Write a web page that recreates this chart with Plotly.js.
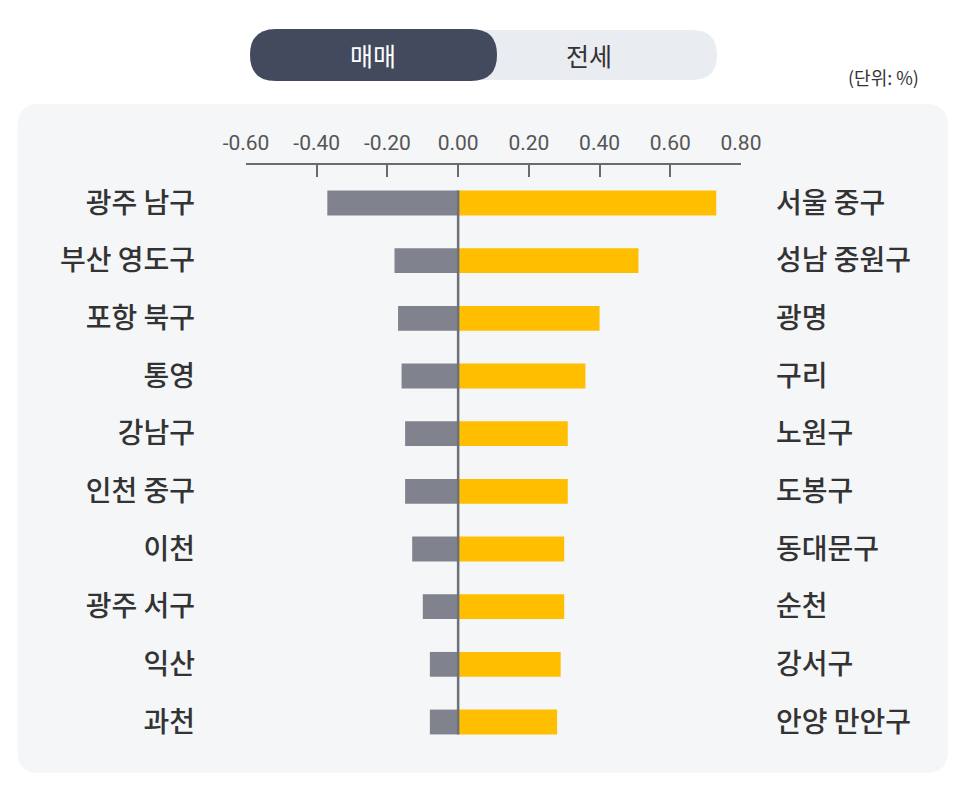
<!DOCTYPE html>
<html>
<head>
<meta charset="utf-8">
<script src="https://cdn.plot.ly/plotly-3.0.1.min.js"></script>
<style>
html,body{margin:0;padding:0;background:#ffffff;}
#chart{width:966px;height:798px;}
</style>
</head>
<body>
<div id="chart"></div>
<script>
// ---- data ----
const saleRegions = ["광주 남구","부산 영도구","포항 북구","통영","강남구","인천 중구","이천","광주 서구","익산","과천"];
const saleValues = [-0.37,-0.18,-0.17,-0.16,-0.15,-0.15,-0.13,-0.10,-0.08,-0.08];
const jeonseRegions = ["서울 중구","성남 중원구","광명","구리","노원구","도봉구","동대문구","순천","강서구","안양 만안구"];
const jeonseValues = [0.73,0.51,0.40,0.36,0.31,0.31,0.30,0.30,0.29,0.28];
const xTickVals = [-0.6,-0.4,-0.2,0,0.2,0.4,0.6,0.8];
const xTickText = ["-0.60","-0.40","-0.20","0.00","0.20","0.40","0.60","0.80"];
const toggleLabels = ["매매","전세"];
const unitLabel = "(단위: %)";

// ---- layout geometry (pixels) ----
const W = 966, H = 798;
const M = {l:246, r:225, t:165, b:38};
const PW = W - M.l - M.r, PH = H - M.t - M.b;
const X = px => (px - M.l) / PW;
const Y = py => (H - M.b - py) / PH;
function rr(x0,y0,x1,y1,r){
  const p = (a,b)=> X(a).toFixed(5)+','+Y(b).toFixed(5);
  return 'M'+p(x0+r,y0)+' L'+p(x1-r,y0)+' Q'+p(x1,y0)+' '+p(x1,y0+r)+
         ' L'+p(x1,y1-r)+' Q'+p(x1,y1)+' '+p(x1-r,y1)+
         ' L'+p(x0+r,y1)+' Q'+p(x0,y1)+' '+p(x0,y1-r)+
         ' L'+p(x0,y0+r)+' Q'+p(x0,y0)+' '+p(x0+r,y0)+' Z';
}

const idx = saleRegions.map((_,i)=>i);
const barW = 0.43;
const yRange = [9.659, -0.659];
const labelFont = {family:'"Noto Sans CJK KR", "Noto Sans", sans-serif', size:28, color:'#333333', weight:500};

const traces = [
  {type:'bar', orientation:'h', x:saleValues, y:idx, width:barW,
   marker:{color:'#80838e'}, hoverinfo:'x', xaxis:'x', yaxis:'y', showlegend:false},
  {type:'bar', orientation:'h', x:jeonseValues, y:idx, width:barW,
   marker:{color:'#ffbe00'}, hoverinfo:'x', xaxis:'x', yaxis:'y2', showlegend:false}
];

const layout = {
  width:W, height:H,
  margin:M,
  paper_bgcolor:'#ffffff',
  plot_bgcolor:'rgba(0,0,0,0)',
  barmode:'overlay',
  showlegend:false,
  font:{family:'"Noto Sans CJK KR", "Noto Sans", sans-serif'},
  xaxis:{
    side:'top', range:[-0.6,0.8], tickvals:xTickVals, ticktext:xTickText,
    showgrid:false, zeroline:false, showline:true, linecolor:'#6b6b6b', linewidth:2,
    ticks:'inside', ticklen:12, tickwidth:2, tickcolor:'#6b6b6b',
    tickfont:{family:'Roboto, "Noto Sans", sans-serif', size:21, color:'#555555'},
    ticklabelstandoff:5, fixedrange:true
  },
  yaxis:{
    range:yRange, tickvals:idx, ticktext:saleRegions, showgrid:false, zeroline:false,
    showline:false, ticks:'', tickfont:labelFont, ticklabelstandoff:50, fixedrange:true
  },
  yaxis2:{
    overlaying:'y', side:'right', range:yRange, tickvals:idx, ticktext:jeonseRegions,
    showgrid:false, zeroline:false, showline:false, ticks:'', tickfont:labelFont,
    ticklabelstandoff:34, fixedrange:true
  },
  shapes:[
    {type:'path', xref:'paper', yref:'paper', path:rr(17.5,104,948,773,22),
     fillcolor:'#f5f6f8', line:{width:0}, layer:'below'},
    {type:'path', xref:'paper', yref:'paper', path:rr(250,30,717,80,25),
     fillcolor:'#e9ecf0', line:{width:0}, layer:'below'},
    {type:'path', xref:'paper', yref:'paper', path:rr(250,29,497,81,26),
     fillcolor:'#434a5e', line:{width:0}, layer:'below'},
    {type:'line', xref:'x', yref:'y', x0:0, x1:0, y0:-barW/2, y1:idx.length-1+barW/2,
     line:{color:'#6e7077', width:2.5}, layer:'above'}
  ],
  annotations:[
    {xref:'paper', yref:'paper', x:X(373), y:Y(55), text:toggleLabels[0], showarrow:false,
     xanchor:'center', yanchor:'middle', font:{family:'"Noto Sans CJK KR", sans-serif', size:25, color:'#ffffff', weight:400}},
    {xref:'paper', yref:'paper', x:X(589), y:Y(55), text:toggleLabels[1], showarrow:false,
     xanchor:'center', yanchor:'middle', font:{family:'"Noto Sans CJK KR", sans-serif', size:25, color:'#333333', weight:400}},
    {xref:'paper', yref:'paper', x:X(921), y:Y(77), text:unitLabel, showarrow:false,
     xanchor:'right', yanchor:'middle', font:{family:'"Noto Sans CJK KR", sans-serif', size:18, color:'#333333'}}
  ]
};

Plotly.newPlot('chart', traces, layout, {displayModeBar:false, staticPlot:true});
</script>
</body>
</html>
